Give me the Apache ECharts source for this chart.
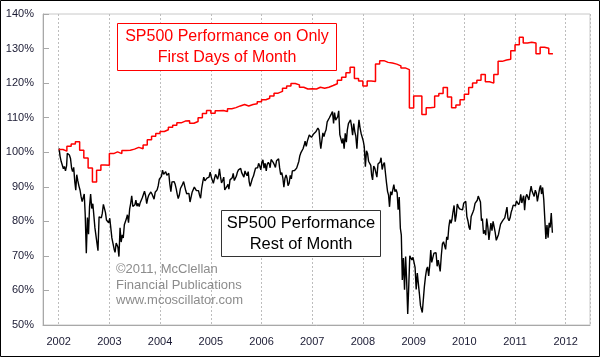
<!DOCTYPE html>
<html><head><meta charset="utf-8">
<script src="https://cdn.jsdelivr.net/npm/echarts@6/dist/echarts.min.js"></script>
<style>html,body{margin:0;padding:0;background:#fff}#c{width:600px;height:357px}</style>
</head><body><div id="c"></div>
<script>
// Monthly "first day of month" cumulative performance (%), Jan 2002 .. Sep 2011
const redValues = [
  100.8,100.3,101.7,102.4,103.0,100.6,98.3,95.4,91.4,94.8,96.3,96.2,
  99.6,100.1,99.6,100.5,100.6,100.9,101.4,101.0,102.1,103.6,104.6,105.4,
  106.0,106.5,107.2,107.8,108.5,109.0,109.1,108.4,108.9,110.0,111.2,112.1,
  111.3,112.0,112.1,111.8,112.6,112.9,113.4,113.8,113.4,113.8,114.0,114.6,
  115.2,115.6,116.3,117.1,117.6,118.5,119.2,119.9,119.5,118.8,118.3,118.4,
  118.3,118.8,118.5,118.8,119.3,119.8,120.8,121.7,123.0,124.6,121.3,120.6,
  119.2,120.6,120.5,125.5,126.5,126.0,125.8,125.5,125.0,124.4,123.9,112.8,
  116.3,116.3,110.9,112.9,113.0,116.3,117.0,118.7,116.0,112.9,113.7,115.2,
  116.8,118.7,120.0,120.8,122.5,120.4,120.0,122.5,126.3,126.7,126.9,129.4,
  131.1,133.3,131.6,131.8,131.6,128.5,130.4,130.1,128.5
];
// "Rest of month" performance (%), four readings per month, Jan 2002 .. Sep 2011
const black2002 = [101.1,98.8,97.3,97.5, 95.2,95.9,94.6,96.1, 99.7,100.2,99.2,98.2, 95.4,94.4,95.6,91.5, 89.0,93.5,91.7,90.2, 89.0,87.2,85.7,86.0, 87.9,82.0,70.8,81.1, 76.3,84.1,87.9,83.7, 85.1,84.7,78.1,77.7, 73.6,71.5,81.3,81.4, 81.0,82.3,84.9,84.8, 82.5,80.4,80.7,79.6];
const black2003 = [80.9,81.3,75.2,74.7, 72.0,71.0,73.7,73.0, 72.4,69.8,78.1,74.0, 76.1,75.2,79.0,79.5, 80.8,81.9,79.6,83.5, 85.3,87.4,84.3,84.3, 84.8,86.1,84.4,85.2, 84.3,85.4,85.6,86.9, 87.2,88.7,87.4,85.1, 86.6,87.5,87.8,88.5, 87.9,87.4,86.4,88.4, 88.0,89.1,90.3,92.2];
const black2004 = [92.4,93.0,94.8,93.6, 93.1,94.4,93.3,93.4, 93.9,90.9,88.6,91.4, 91.9,91.5,90.7,89.3, 87.8,86.6,87.6,89.5, 89.7,90.7,91.5,91.2, 88.9,88.0,87.6,88.1, 85.6,86.0,88.4,88.8, 89.9,90.3,88.9,89.3, 88.9,87.7,86.7,89.5, 91.4,92.8,91.7,92.0, 92.5,92.2,92.8,94.2];
const black2005 = [92.8,92.7,91.0,92.4, 93.6,93.7,92.2,93.6, 95.2,93.0,91.1,91.8, 92.8,89.1,88.7,90.1, 90.7,89.3,92.0,92.1, 92.6,93.9,91.8,92.3, 93.1,94.2,94.9,94.8, 95.3,94.1,93.6,92.8, 94.6,93.8,93.2,94.4, 91.5,90.1,90.4,92.4, 93.1,94.2,95.4,95.5, 95.5,96.8,96.0,94.9];
const black2006 = [97.2,97.8,95.4,96.8, 94.6,96.5,97.1,96.5, 95.5,97.9,97.5,97.0, 96.3,95.6,97.5,97.6, 98.1,95.6,93.5,94.1, 92.4,89.9,92.5,93.4, 92.4,90.3,91.0,93.3, 92.3,94.6,94.2,94.7, 94.7,95.4,95.8,97.4, 99.0,99.8,100.3,101.0, 102.0,103.2,101.7,103.2, 103.7,105.0,104.6,104.3];
const black2007 = [103.8,105.3,105.2,105.9, 105.4,107.0,106.4,102.7, 101.0,101.2,105.6,104.5, 105.8,106.5,108.8,108.7, 109.9,109.8,111.1,111.8, 108.3,111.5,109.3,109.6, 110.3,112.0,105.1,104.9, 102.6,104.0,101.0,105.5, 102.9,106.4,108.3,108.1, 109.4,107.6,104.9,108.3, 105.9,104.7,101.0,106.4, 109.4,107.2,105.5,106.0];
const black2008 = [103.2,101.6,95.8,100.4, 99.6,97.4,97.8,96.2, 93.4,92.0,96.0,95.4, 95.2,92.8,96.6,96.8, 97.2,98.4,95.0,96.4, 97.0,94.2,91.2,88.6, 87.6,84.2,88.6,87.6, 88.0,90.6,88.6,89.2, 88.2,83.4,87.0,78.0, 76.0,63.0,69.4,60.2, 69.8,63.2,53.2,61.8, 70.0,70.4,68.8,69.6];
const black2009 = [70.0,66.7,60.3,65.0, 65.2,59.1,55.6,55.1, 53.6,53.2,61.1,64.0, 66.1,66.8,64.2,67.4, 71.7,68.1,69.5,70.8, 71.2,70.9,67.0,68.8, 67.2,65.5,70.1,73.5, 74.1,73.6,71.9,75.5, 74.7,78.3,80.5,79.4, 80.6,82.7,84.6,79.9, 81.9,85.0,84.2,83.6, 83.6,84.0,83.3,85.2];
const black2010 = [85.4,85.8,81.4,80.1, 78.2,77.6,81.4,81.1, 82.7,83.5,85.2,84.9, 86.1,87.3,87.8,85.6, 80.2,80.8,76.4,77.4, 76.0,80.8,78.4,74.6, 74.2,79.5,77.3,80.0, 80.2,76.8,74.5,74.6, 76.2,77.7,79.2,78.7, 80.2,80.6,81.0,81.3, 84.1,80.9,80.2,81.1, 82.6,83.5,84.7,84.7];
const black2011 = [84.5,85.9,85.8,84.8, 85.6,87.8,85.3,86.7, 87.4,83.2,87.0,87.8, 87.8,86.2,88.4,90.2, 88.7,88.6,87.2,89.0, 88.1,85.8,86.0,89.5, 90.4,87.9,89.8,86.3, 80.3,74.9,78.9,75.3, 79.6,78.2,82.4,76.7];
const blackValues = [].concat(black2002,black2003,black2004,black2005,black2006,black2007,black2008,black2009,black2010,black2011);
const readingDays = [4, 11, 19, 27];
const startYear = 2002;

const redLabel = ['SP500 Performance on Only', 'First Days of Month'];
const blackLabel = ['SP500 Performance', 'Rest of Month'];
const creditLines = ['\u00A92011, McClellan', 'Financial Publications', 'www.mcoscillator.com'];

const redData = redValues.map((v, i) => [new Date(startYear, i, 1).getTime(), v]);
redData.push([new Date(startYear, redValues.length, 1).getTime(), redValues[redValues.length - 1]]);
const blackData = blackValues.map((v, k) => [new Date(startYear, Math.floor(k / 4), readingDays[k % 4]).getTime(), v]);

const chart = echarts.init(document.getElementById('c'), null, {renderer: 'canvas'});
const FONT = 'Liberation Sans, Arial, sans-serif';
chart.setOption({
  animation: false,
  backgroundColor: '#ffffff',
  grid: {left: 43, right: 10, top: 14, bottom: 32, show: true, borderColor: '#c8c8c8', borderWidth: 1, backgroundColor: 'transparent'},
  xAxis: {
    type: 'time',
    min: new Date(2001, 8, 10).getTime(),
    max: new Date(2012, 5, 24).getTime(),
    splitNumber: 11,
    minInterval: 365 * 24 * 3600 * 1000,
    axisLine: {show: true, lineStyle: {color: '#a8a8a8', width: 1}},
    axisTick: {show: false},
    axisLabel: {formatter: '{yyyy}', color: '#1a1a33', fontFamily: FONT, fontSize: 11, margin: 11, showMinLabel: false, showMaxLabel: false},
    splitLine: {show: true, lineStyle: {color: '#bdbdbd', type: [2, 2], width: 1}}
  },
  yAxis: {
    type: 'value', min: 50, max: 140, interval: 10,
    axisLine: {show: true, lineStyle: {color: '#a8a8a8', width: 1}},
    axisTick: {show: true, inside: true, length: 6, lineStyle: {color: '#a8a8a8'}},
    axisLabel: {formatter: '{value}%', color: '#1a1a33', fontFamily: FONT, fontSize: 11, margin: 9},
    splitLine: {show: false}
  },
  series: [
    {type: 'line', data: blackData, showSymbol: false, lineStyle: {color: '#000000', width: 1.4}, z: 2},
    {type: 'line', data: redData, step: 'end', showSymbol: false, lineStyle: {color: '#ff0000', width: 1.5}, z: 3}
  ],
  graphic: [
    {type: 'rect', shape: {x: 117.5, y: 23.5, width: 219, height: 47}, style: {fill: '#fff', stroke: '#ff0000', lineWidth: 1}, z: 10},
    {type: 'text', x: 227, y: 37, style: {text: redLabel[0], fill: '#ff0000', font: '16px ' + FONT, textAlign: 'center', textVerticalAlign: 'middle'}, z: 11},
    {type: 'text', x: 227, y: 58, style: {text: redLabel[1], fill: '#ff0000', font: '16px ' + FONT, textAlign: 'center', textVerticalAlign: 'middle'}, z: 11},
    {type: 'rect', shape: {x: 221.5, y: 210.5, width: 159, height: 46}, style: {fill: '#fff', stroke: '#333333', lineWidth: 1}, z: 10},
    {type: 'text', x: 301, y: 223.5, style: {text: blackLabel[0], fill: '#000', font: '16.5px ' + FONT, textAlign: 'center', textVerticalAlign: 'middle'}, z: 11},
    {type: 'text', x: 301, y: 244, style: {text: blackLabel[1], fill: '#000', font: '16.5px ' + FONT, textAlign: 'center', textVerticalAlign: 'middle'}, z: 11},
    {type: 'text', x: 116, y: 269.5, style: {text: creditLines[0], fill: '#8c8c8c', font: '13px ' + FONT, textAlign: 'left', textVerticalAlign: 'middle'}, z: 11},
    {type: 'text', x: 116, y: 285, style: {text: creditLines[1], fill: '#8c8c8c', font: '13px ' + FONT, textAlign: 'left', textVerticalAlign: 'middle'}, z: 11},
    {type: 'text', x: 116, y: 300.5, style: {text: creditLines[2], fill: '#8c8c8c', font: '13px ' + FONT, textAlign: 'left', textVerticalAlign: 'middle'}, z: 11},
    {type: 'rect', shape: {x: 0.5, y: 0.5, width: 599, height: 356}, style: {fill: 'none', stroke: '#000', lineWidth: 1}, z: 20}
  ]
});
</script></body></html>
